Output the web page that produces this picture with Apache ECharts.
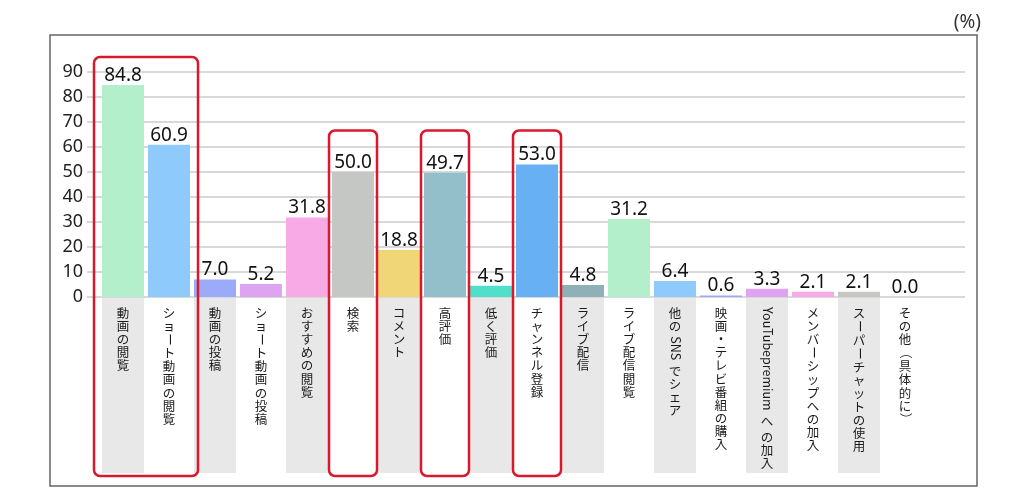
<!DOCTYPE html>
<html><head><meta charset="utf-8">
<script src="https://cdn.jsdelivr.net/npm/echarts@6/dist/echarts.min.js"></script>
<style>html,body{margin:0;padding:0;background:#fff}#c{width:1024px;height:497px}</style>
</head><body><div id="c"></div>
<script>
const categories = ['動画の閲覧','ショート動画の閲覧','動画の投稿','ショート動画の投稿','おすすめの閲覧','検索','コメント','高評価','低く評価','チャンネル登録','ライブ配信','ライブ配信閲覧','他の SNS でシェア','映画・テレビ番組の購入','YouTubepremium へ の加入','メンバーシップへの加入','スーパーチャットの使用','その他（具体的に）'];
const values = [84.8, 60.9, 7.0, 5.2, 31.8, 50.0, 18.8, 49.7, 4.5, 53.0, 4.8, 31.2, 6.4, 0.6, 3.3, 2.1, 2.1, 0.0];
const yTicks = [0,10,20,30,40,50,60,70,80,90];
const highlightGroups = [[0,1],[5,5],[7,7],[9,9]];
const unitLabel = '(%)';

const palette = ['#b3efcb','#8ecbfc','#9babf9','#dea4f1','#f8aae6','#c5c7c4','#f0d676','#93bfcb','#4fdfcb','#67b0f4','#8fb0b7'];
const FONT = '"Noto Sans", "Noto Sans CJK JP", sans-serif';
const CJK = '"Noto Sans CJK JP", "Noto Sans", sans-serif';
const LFS = 12.5, PITCH = 13.1;
const mctx = document.createElement('canvas').getContext('2d');
mctx.font = LFS + 'px ' + CJK;

function segs(label){
  const out = []; let buf = '';
  for (const ch of label){
    if (/[A-Za-z0-9]/.test(ch)) { buf += ch; continue; }
    if (buf) { out.push({t:buf, rot:true}); buf=''; }
    if (ch === ' ') out.push({gap:true});
    else out.push({t:ch, rot:/[ー（）()]/.test(ch)});
  }
  if (buf) out.push({t:buf, rot:true});
  return out;
}

const chart = echarts.init(document.getElementById('c'));
const BW = 42;
chart.setOption({
  animation:false,
  grid:[
    {left:87, right:59, top:72, bottom:200},
    {left:100, width:828, top:72, bottom:200}
  ],
  xAxis:[
    {gridIndex:0, type:'value', min:0, max:1, show:false},
    {gridIndex:1, type:'category', data:categories, axisLine:{show:false}, axisTick:{show:false}, axisLabel:{show:false}}
  ],
  yAxis:[
    {gridIndex:0, type:'value', min:yTicks[0], max:yTicks[yTicks.length-1], interval:10,
     axisLine:{show:false}, axisTick:{show:false},
     axisLabel:{fontFamily:FONT, fontSize:18, color:'#222', margin:4},
     splitLine:{lineStyle:{color:'#cdcdcd', width:1.5}}},
    {gridIndex:1, type:'value', min:yTicks[0], max:yTicks[yTicks.length-1], interval:10, show:false}
  ],
  graphic:[
    {type:'rect', shape:{x:50, y:35, width:927, height:451}, style:{fill:'none', stroke:'#666', lineWidth:1.5}, z:-1},
    {type:'text', x:981, y:23, style:{text:unitLabel, align:'right', verticalAlign:'middle', fontFamily:FONT, fontSize:19, fill:'#333'}}
  ],
  series:[
    {type:'custom', xAxisIndex:1, yAxisIndex:1, clip:false, z:1,
     data: categories.map((c,i)=>[i,0]),
     renderItem:(params, api)=>{
       const i = api.value(0);
       const p = api.coord([i,0]);
       const cx = p[0], y0 = p[1];
       const children = [];
       if (i % 2 === 0) children.push({type:'rect', shape:{x:cx-BW/2, y:y0+1, width:BW, height:175}, style:{fill:'#e8e8e8'}});
       let y = y0 + 10;
       for (const s of segs(categories[i])){
         if (s.gap){ y += 3; continue; }
         if (s.rot){
           const w = mctx.measureText(s.t).width;
           children.push({type:'text', x:cx+0.5, y:y + w/2, rotation:-Math.PI/2,
             style:{text:s.t, align:'center', verticalAlign:'middle', fontFamily:CJK, fontSize:LFS, fill:'#1a1a1a'}});
           y += w + 1.5;
         } else {
           children.push({type:'text', x:cx, y:y,
             style:{text:s.t, align:'center', verticalAlign:'top', fontFamily:CJK, fontSize:LFS, fill:'#1a1a1a'}});
           y += PITCH;
         }
       }
       return {type:'group', children};
     }},
    {type:'bar', xAxisIndex:1, yAxisIndex:1, barWidth:BW, z:2,
     data: values.map((v,i)=>({value:v, itemStyle:{color:palette[i % palette.length]}})),
     label:{show:true, position:'top', distance:0, fontFamily:FONT, fontSize:19, color:'#111',
       formatter:p=>p.value.toFixed(1)}},
    {type:'custom', xAxisIndex:1, yAxisIndex:1, clip:false, z:5,
     data: highlightGroups.map((g,k)=>[g[0],0,k]),
     renderItem:(params, api)=>{
       const g = highlightGroups[api.value(2)];
       const multi = g[1] > g[0];
       const band = api.size([1,0])[0];
       const pad = multi ? 6 : 1;
       const l = api.coord([g[0],0])[0] - band/2 - pad;
       const r = api.coord([g[1],0])[0] + band/2 + pad;
       const y0 = api.coord([g[0],0])[1];
       let top;
       if (multi){
         const m = Math.max(...values.slice(g[0], g[1]+1));
         top = api.coord([g[0], m])[1] - 28;
       } else {
         const singles = highlightGroups.filter(h=>h[0]===h[1]).map(h=>values[h[0]]);
         top = api.coord([g[0], Math.max(...singles)])[1] - 34;
       }
       return {type:'rect', shape:{x:l, y:top, width:r-l, height:y0+179-top, r:6},
         style:{fill:'none', stroke:'#d8182c', lineWidth:2.5}};
     }}
  ]
});
</script></body></html>
